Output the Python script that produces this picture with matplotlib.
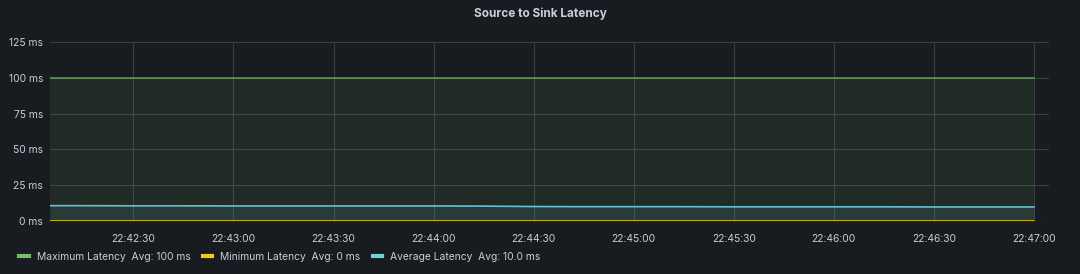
import matplotlib
matplotlib.use("Agg")
import matplotlib.pyplot as plt
from matplotlib.lines import Line2D
import pandas as pd

# ---- data ----
title = "Source to Sink Latency"
start_time = "2021-01-01 22:42:05"
end_time = "2021-01-01 22:47:00"
step = "15s"
max_latency = [100] * 21
min_latency = [0] * 21
avg_latency = [10.7, 10.7, 10.6, 10.6, 10.5, 10.5, 10.5, 10.5, 10.5, 10.4,
               10.1, 10.0, 10.0, 10.0, 9.9, 9.9, 9.9, 9.9, 9.8, 9.8, 9.8]
series_names = ["Maximum Latency", "Minimum Latency", "Average Latency"]
series_avgs = ["Avg: 100 ms", "Avg: 0 ms", "Avg: 10.0 ms"]
y_ticks = [0, 25, 50, 75, 100, 125]
x_tick_labels = ["22:42:30", "22:43:00", "22:43:30", "22:44:00", "22:44:30",
                 "22:45:00", "22:45:30", "22:46:00", "22:46:30", "22:47:00"]

t0 = pd.Timestamp(start_time)
aligned = pd.date_range("2021-01-01 22:42:15", end_time, freq=step)
times = [t0] + list(aligned)

colors = ["#73BF69", "#F2CC0C", "#6ED0E0"]
bg = "#181b1f"
text_col = "#c7d0d9"

plt.rcParams['font.family'] = ['Inter', 'DejaVu Sans']

fig = plt.figure(figsize=(10.8, 2.74), dpi=100, facecolor=bg)
ax = fig.add_axes([50 / 1080, 1 - 221 / 274, 999 / 1080, 179 / 274])
ax.set_facecolor(bg)

for vals, c, a in zip([max_latency, min_latency, avg_latency], colors, [0.7, 0.9, 0.9]):
    ax.fill_between(times, 0, vals, color=c, alpha=0.1, linewidth=0)
    ax.plot(times, vals, color=c, linewidth=1.2, alpha=a)

ax.set_ylim(0, 125)
ax.set_yticks(y_ticks)
ax.set_yticklabels([f"{v} ms" for v in y_ticks])
tick_times = [pd.Timestamp("2021-01-01 " + s) for s in x_tick_labels]
ax.set_xticks(tick_times)
ax.set_xticklabels(x_tick_labels)
ax.set_xlim(t0, pd.Timestamp("2021-01-01 22:47:04.5"))

ax.grid(True, color="#3a3e43", linewidth=0.8)
ax.set_axisbelow(True)
for s in ax.spines.values():
    s.set_visible(False)
ax.tick_params(axis="both", length=0, colors=text_col, labelsize=7.4)
ax.tick_params(axis="x", pad=9)
ax.tick_params(axis="y", pad=5)

fig.text(0.5, 1 - 14 / 274, title, ha="center", va="center", color=text_col,
         fontsize=8.5, fontweight="bold")

handles = [Line2D([0], [0], color=c, linewidth=3) for c in colors]
labels = [f"{n}  {a}" for n, a in zip(series_names, series_avgs)]
fig.legend(handles, labels, loc="center left", bbox_to_anchor=(10 / 1080, 1 - 257 / 274),
           ncol=3, frameon=False, fontsize=7.4, handlelength=0.9, handletextpad=0.8,
           columnspacing=1.2, labelcolor=text_col)

fig.savefig("out.png", facecolor=bg)
